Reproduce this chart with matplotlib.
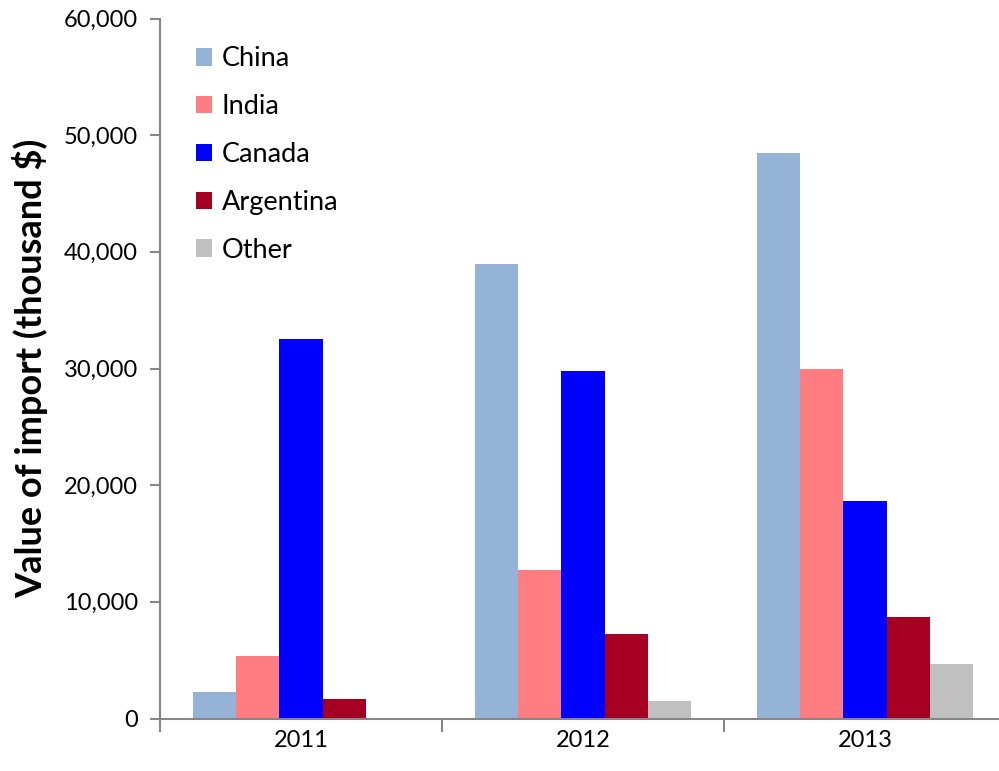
import numpy as np
import matplotlib.pyplot as plt

plt.rcParams['font.family'] = ['Lato', 'DejaVu Sans']

# 进口数据（千美元）
years = ['2011', '2012', '2013']
countries = ['China', 'India', 'Canada', 'Argentina', 'Other']
china = [2300, 39000, 48500]
india = [5350, 12750, 30000]
canada = [32500, 29800, 18650]
argentina = [1650, 7250, 8700]
other = [0, 1500, 4650]
colors = ['#95B3D7', '#FF7C80', '#0000FF', '#A50021', '#C0C0C0']

series = [china, india, canada, argentina, other]

fig = plt.figure(figsize=(9.99, 7.71), dpi=100)
ax = fig.add_axes([160 / 999, 52.5 / 771, 846 / 999, 700 / 771])

x = np.arange(len(years))
n = len(series)
bar_w = 1 / (n + 1.5)   # Excel风格，间隙宽度150%
for i, (vals, c, name) in enumerate(zip(series, colors, countries)):
    ax.bar(x - n * bar_w / 2 + (i + 0.5) * bar_w, vals, width=bar_w,
           color=c, label=name, zorder=2)

ax.set_xlim(-0.5, 2.5)
ax.set_ylim(0, 60000)
ax.set_yticks(np.arange(0, 60001, 10000))
ax.set_yticklabels([f'{v:,}' for v in range(0, 60001, 10000)])
ax.set_xticks(x)
ax.set_xticklabels(years)
ax.set_xticks([-0.5, 0.5, 1.5, 2.5], minor=True)

for s in ['top', 'right']:
    ax.spines[s].set_visible(False)
for s in ['left', 'bottom']:
    ax.spines[s].set_color('#868686')
    ax.spines[s].set_linewidth(1.5)

ax.tick_params(axis='y', length=7, width=1.5, color='#868686', labelsize=17, pad=9)
ax.tick_params(axis='x', which='major', length=0, labelsize=17, pad=8)
ax.tick_params(axis='x', which='minor', length=9, width=1.5, color='#868686')

ax.set_ylabel('Value of import (thousand $)', fontsize=26, fontweight='bold', labelpad=11)

leg = ax.legend(loc='upper left', bbox_to_anchor=(36 / 846, 0.96), frameon=False,
                fontsize=19.5, handlelength=0.6, handleheight=0.6,
                handletextpad=0.35, labelspacing=0.84, borderpad=0, borderaxespad=0)

fig.savefig('out.png', dpi=100)
